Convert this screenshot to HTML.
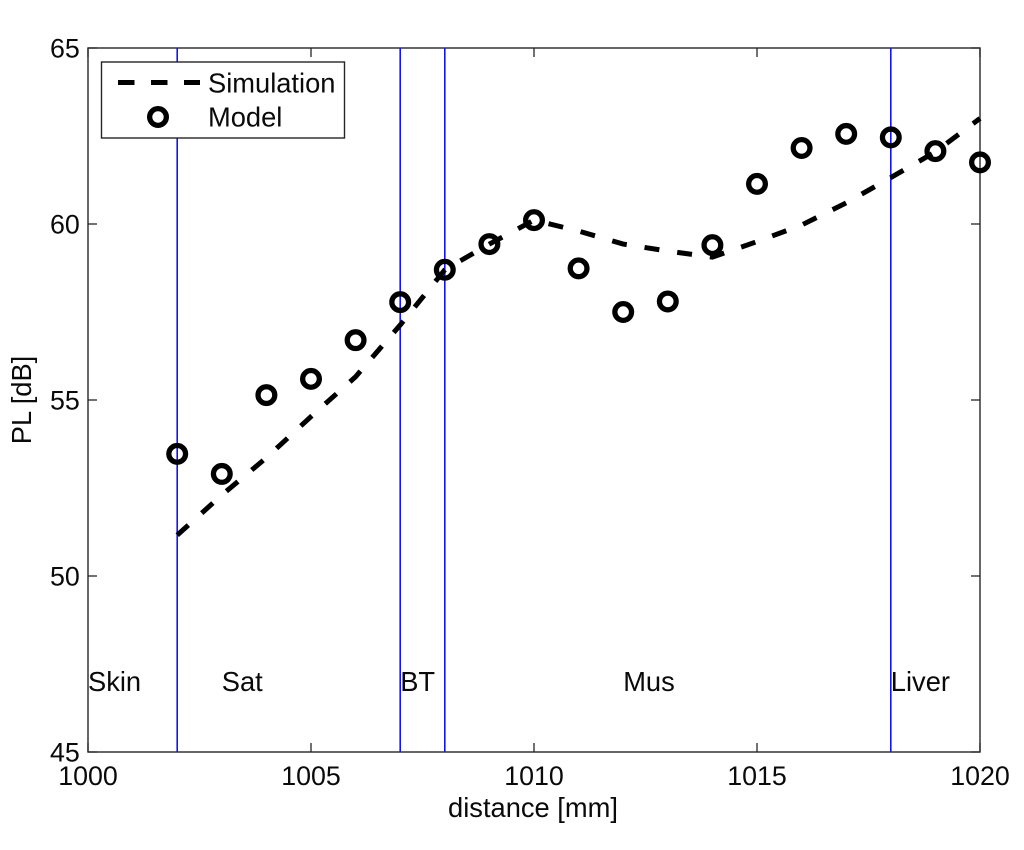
<!DOCTYPE html>
<html>
<head>
<meta charset="utf-8">
<style>
html,body{margin:0;padding:0;background:#fff;width:1024px;height:850px;overflow:hidden}
svg{display:block}
text{font-family:"Liberation Sans",Arial,sans-serif;font-size:27.3px;fill:#0a0a0a}
text.tick{font-size:26.8px}
</style>
</head>
<body>
<svg id="chart" xmlns="http://www.w3.org/2000/svg" width="1024" height="850" viewBox="0 0 1024 850"></svg>
<script>
const distances = [1002,1003,1004,1005,1006,1007,1008,1009,1010,1011,1012,1013,1014,1015,1016,1017,1018,1019,1020];
const simulationValues = [51.16,52.3,53.36,54.53,55.66,57.13,58.7,59.43,60.11,59.8,59.43,59.23,59.06,59.5,59.97,60.6,61.32,62.05,63.0];
const modelValues = [53.47,52.9,55.14,55.6,56.7,57.78,58.7,59.43,60.11,58.74,57.5,57.8,59.4,61.14,62.16,62.56,62.46,62.07,61.75];
const boundaries = [1002,1007,1008,1018];
const regionNames = ['Skin','Sat','BT','Mus','Liver'];
const regionStarts = [1000,1003,1007,1012,1018];
const regionLevel = [47];
const xTicks = [1000,1005,1010,1015,1020];
const yTicks = [45,50,55,60,65];
const xDomain = [1000,1020];
const yDomain = [45,65];

const plotLeft = 88, plotRight = 980, plotTop = 48, plotBottom = 752;
const axisColor = '#262626';
const NS = 'http://www.w3.org/2000/svg';
const svg = document.getElementById('chart');

function xScale(v){ return plotLeft + (v - xDomain[0]) / (xDomain[1] - xDomain[0]) * (plotRight - plotLeft); }
function yScale(v){ return plotBottom - (v - yDomain[0]) / (yDomain[1] - yDomain[0]) * (plotBottom - plotTop); }
function make(tag, attrs, parent){
  const el = document.createElementNS(NS, tag);
  for (const k in attrs) el.setAttribute(k, attrs[k]);
  (parent || svg).appendChild(el);
  return el;
}

/* plot frame */
const frame = make('rect', {x:plotLeft, y:plotTop, width:plotRight-plotLeft, height:plotBottom-plotTop, fill:'none', stroke:axisColor, 'stroke-width':1.4});



/* ticks and tick labels */
xTicks.forEach(function(t){
  const x = xScale(t);
  const tb = make('line', {x1:x, x2:x, y1:plotBottom, y2:plotBottom-9, stroke:axisColor, 'stroke-width':1.3});
  
  
  const tt = make('line', {x1:x, x2:x, y1:plotTop, y2:plotTop+9, stroke:axisColor, 'stroke-width':1.3});
  
  
  const lab = make('text', {x:x, y:785, 'text-anchor':'middle', 'class':'tick'});
  lab.textContent = String(t);
  
  
});
yTicks.forEach(function(t){
  const y = yScale(t);
  const tl = make('line', {x1:plotLeft, x2:plotLeft+9, y1:y, y2:y, stroke:axisColor, 'stroke-width':1.3});
  
  
  const tr = make('line', {x1:plotRight, x2:plotRight-9, y1:y, y2:y, stroke:axisColor, 'stroke-width':1.3});
  
  
  const lab = make('text', {x:79.8, y:y+9.5, 'text-anchor':'end', 'class':'tick'});
  lab.textContent = String(t);
  
  
});

/* axis titles */
const xTitle = make('text', {x:533, y:817, 'text-anchor':'middle'});
xTitle.textContent = 'distance [mm]';


const yTitle = make('text', {x:0, y:0, 'text-anchor':'middle', transform:'translate(31,400) rotate(-90)'});
yTitle.textContent = 'PL [dB]';



/* tissue boundaries */
boundaries.forEach(function(b){
  const x = xScale(b);
  const l = make('line', {x1:x, x2:x, y1:plotTop, y2:plotBottom, stroke:'#1414f0', 'stroke-width':1.6});
  
  
});

/* tissue labels */
regionNames.forEach(function(name, i){
  const t = make('text', {x:xScale(regionStarts[i]), y:yScale(regionLevel[0])+9.5});
  t.textContent = name;
  
  
});

/* simulation line */
const simPts = distances.map(function(d, i){ return xScale(d).toFixed(2) + ',' + yScale(simulationValues[i]).toFixed(2); }).join(' ');
const simLine = make('polyline', {points:simPts, fill:'none', stroke:'#000', 'stroke-width':5, 'stroke-dasharray':'15 18', 'stroke-linejoin':'round'});



/* model markers */
distances.forEach(function(d, i){
  const c = make('circle', {cx:xScale(d), cy:yScale(modelValues[i]), r:8.35, fill:'none', stroke:'#000', 'stroke-width':5.3});
  
  
});

/* legend */
const legend = make('g', {});


const legendBox = make('rect', {x:101.5, y:62, width:243, height:76, fill:'#fff', stroke:axisColor, 'stroke-width':1.4}, legend);


const legendLine = make('line', {x1:118, x2:200, y1:82.5, y2:82.5, stroke:'#000', 'stroke-width':5, 'stroke-dasharray':'16.5 16.5'}, legend);


const legendText1 = make('text', {x:208, y:92.5}, legend);
legendText1.textContent = 'Simulation';


const legendMark = make('circle', {cx:158, cy:117, r:8.35, fill:'none', stroke:'#000', 'stroke-width':5.3}, legend);


const legendText2 = make('text', {x:208, y:126.5}, legend);
legendText2.textContent = 'Model';


</script>
</body>
</html>
